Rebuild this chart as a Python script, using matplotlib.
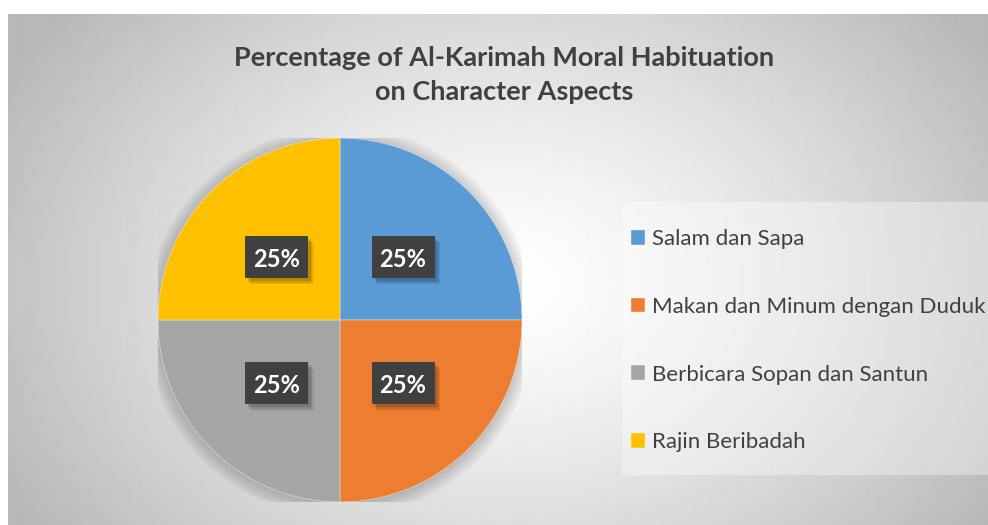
import matplotlib.pyplot as plt
import numpy as np

categories = ["Salam dan Sapa", "Makan dan Minum dengan Duduk",
              "Berbicara Sopan dan Santun", "Rajin Beribadah"]
values = [25, 25, 25, 25]
colors = ["#5B9BD5", "#ED7D31", "#A5A5A5", "#FFC000"]
title = "Percentage of Al-Karimah Moral Habituation\non Character Aspects"

W, H = 988, 525
fig = plt.figure(figsize=(W / 100, H / 100), dpi=100)
fig.patch.set_facecolor("white")

# gray panel with radial gradient
bg = fig.add_axes([8 / W, 0, 1 - 8 / W, (H - 14) / H])
yy, xx = np.mgrid[0:H - 14, 0:W - 8]
d = np.sqrt(((xx - 500) / 560.0) ** 2 + ((yy - 270) / 420.0) ** 2)
shade = np.clip(1.0 - 0.27 * d ** 1.3, 0.72, 1.0)
bg.imshow(shade, cmap="gray", vmin=0, vmax=1, aspect="auto",
          interpolation="bilinear")
bg.axis("off")

# legend background
fig.patches.append(plt.Rectangle((622 / W, 1 - 475 / H), (W - 622) / W,
                                 (475 - 202) / H, transform=fig.transFigure,
                                 facecolor="white", alpha=0.35,
                                 edgecolor="none", zorder=0.5))

# pie axes: center (340, 320) px, radius 182 px
cx, cy, r = 340, 320, 182
ax = fig.add_axes([(cx - r) / W, (H - cy - r) / H, 2 * r / W, 2 * r / H])

# soft shadow behind the pie
for i in range(12):
    ax.add_patch(plt.Circle((0, -0.01), 1.0 + i * 0.007, color="black",
                            alpha=0.016, lw=0, zorder=0))

wedges, texts, autotexts = ax.pie(
    values, colors=colors, startangle=90, counterclock=False,
    autopct="%d%%", pctdistance=0.49,
    wedgeprops=dict(linewidth=0.3, edgecolor="#f4f4f4"),
    textprops=dict(color="white", fontsize=17, fontweight="bold",
                   family=["Lato", "DejaVu Sans"]))
ax.set_xlim(-1, 1)
ax.set_ylim(-1, 1)
ax.set_aspect("equal")
ax.axis("off")

# dark label boxes with a soft drop shadow
bw, bh = 63 / r, 42 / r
for t in autotexts:
    x, y = t.get_position()
    t.set_position((x, y - 0.012))
    for k, a in [(0.03, 0.08), (0.022, 0.1), (0.014, 0.12)]:
        ax.add_patch(plt.Rectangle((x - bw / 2 + k, y - bh / 2 - k * 1.2),
                                   bw, bh, facecolor="black", alpha=a,
                                   edgecolor="none", zorder=3))
    ax.add_patch(plt.Rectangle((x - bw / 2, y - bh / 2), bw, bh,
                               facecolor="#404040", edgecolor="none",
                               zorder=4))
    t.set_zorder(5)

fig.text(0.51, 0.857, title, ha="center", va="center", fontsize=19.5,
         fontweight="bold", color="#404040", linespacing=1.5,
         family=["Lato", "DejaVu Sans"])

leg = fig.legend(wedges, categories, loc="upper left",
                 bbox_to_anchor=(631 / W, 1 - 229 / H),
                 frameon=False, labelspacing=2.15,
                 handlelength=0.65, handleheight=0.65, handletextpad=0.3,
                 borderpad=0, borderaxespad=0,
                 prop=dict(family=["Lato", "DejaVu Sans"], size=16))
for t in leg.get_texts():
    t.set_color("#404040")

fig.savefig("out.png", dpi=100)
